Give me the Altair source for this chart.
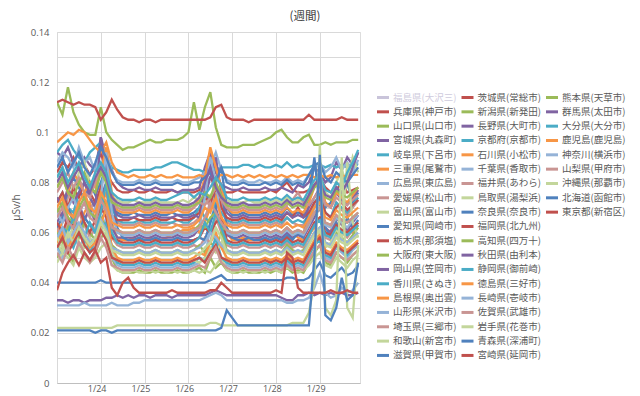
import altair as alt
import pandas as pd

# ---------------- data ----------------
hours = list(range(0, 166, 3))          # 3-hourly samples, hour 0 = 1/23 02:00
grid_hours = list(range(0, 163, 6))
day_labels = ["1/24", "1/25", "1/26", "1/27", "1/28", "1/29"]
day_hours = [22, 46, 70, 94, 118, 142]
y_ticks = [0.0, 0.01, 0.02, 0.03, 0.04, 0.05, 0.06, 0.07, 0.08, 0.09, 0.10, 0.11, 0.12, 0.13, 0.14]

legend_col1 = ["福島県(大沢三)", "兵庫県(神戸市)", "山口県(山口市)", "宮城県(丸森町)", "岐阜県(下呂市)",
               "三重県(尾鷲市)", "広島県(東広島)", "愛媛県(松山市)", "富山県(富山市)", "愛知県(岡崎市)",
               "栃木県(那須塩)", "大阪府(東大阪)", "岡山県(笠岡市)", "香川県(さぬき)", "島根県(奥出雲)",
               "山形県(米沢市)", "埼玉県(三郷市)", "和歌山(新宮市)", "滋賀県(甲賀市)"]
legend_col2 = ["茨城県(常総市)", "新潟県(新発田)", "長野県(大町市)", "京都府(京都市)", "石川県(小松市)",
               "千葉県(香取市)", "福井県(あわら)", "鳥取県(湯梨浜)", "奈良県(奈良市)", "福岡県(北九州)",
               "高知県(四万十)", "秋田県(由利本)", "静岡県(御前崎)", "徳島県(三好市)", "長崎県(壱岐市)",
               "佐賀県(武雄市)", "岩手県(花巻市)", "青森県(深浦町)", "宮崎県(延岡市)"]
legend_col3 = ["熊本県(天草市)", "群馬県(太田市)", "大分県(大分市)", "鹿児島(鹿児島)", "神奈川(横浜市)",
               "山梨県(甲府市)", "沖縄県(那覇市)", "北海道(函館市)", "東京都(新宿区)"]

# values in 0.001 μSv/h, one every 3 hours
hyogo = [84,88,86,90,85,87,83,86, 92,84,80,77,76,76,77,76, 76,77,76,76,76,77,76,76, 76,76,77,79,82,78,76,76,
         76,77,76,76,76,76,76,77, 76,78,80,77,76,76,77,79, 82,78,76,77,80,76,77,78]
yamaguchi = [112,107,118,108,103,100,99,99, 110,100,97,95,93,94,94,95, 96,97,96,96,97,97,97,98, 100,112,101,110,116,102,95,94,
             94,94,95,95,95,96,97,98, 100,101,98,96,96,98,99,95, 95,96,95,96,96,96,97,97]
miyagi = [92,90,94,88,86,90,87,85, 98,90,85,80,78,77,77,78, 77,77,78,77,77,77,76,77, 77,77,78,86,92,84,79,78,
          77,77,78,77,77,77,78,77, 77,78,77,76,79,78,80,86, 84,80,82,88,85,90,87,92]
gifu = [92,95,97,93,90,88,92,94, 96,90,86,85,84,84,85,85, 85,85,86,86,87,88,88,87, 86,85,85,84,86,85,86,86,
        86,86,87,87,86,87,86,86, 87,86,88,86,87,86,86,87, 87,86,87,86,87,86,88,87]
mie = [60,64,70,66,62,68,72,65, 70,76,64,58,57,57,58,57, 57,58,57,57,58,59,60,61, 61,62,60,64,70,75,66,60,
       57,57,58,57,57,58,57,57, 58,57,58,60,58,57,59,62, 60,58,61,64,59,62,60,63]
hiroshima = [88,92,90,86,94,88,90,84, 95,93,84,81,80,80,80,81, 80,80,81,80,80,80,81,80, 80,81,82,84,86,92,85,81,
             80,80,81,80,80,81,80,80, 81,80,82,80,81,80,83,85, 88,84,86,90,85,88,84,89]
ehime = [70,66,74,78,70,65,69,73, 76,70,66,64,63,63,63,64, 63,63,64,63,63,64,63,63, 63,64,66,74,70,78,72,64,
         63,63,64,63,63,63,64,63, 64,63,66,64,63,63,65,70, 74,68,66,72,69,67,70,73]
toyama = [82,86,80,76,84,88,80,78, 85,80,74,73,72,72,73,72, 72,72,73,72,72,72,72,73, 72,74,73,72,75,73,74,73,
          72,72,72,73,72,72,73,72, 73,72,74,72,73,72,75,78, 82,76,74,80,85,79,90,84]
aichi = [74,70,76,82,78,73,80,75, 80,86,72,68,67,67,68,67, 67,67,68,67,67,68,67,67, 67,68,70,76,72,80,86,70,
         67,67,68,67,67,67,68,67, 68,67,70,67,68,67,74,88, 76,70,72,78,74,80,72,76]
tochigi = [112,113,112,111,112,111,111,110, 105,108,113,109,106,105,105,104, 105,105,104,105,105,105,105,105,
           105,105,105,105,106,110,111,106, 105,105,105,104,105,105,105,105, 105,105,105,105,105,105,107,105,
           105,105,105,105,106,105,105,105]
osaka = [50,54,52,48,56,52,49,52, 58,60,50,45,44,44,44,45, 44,44,45,44,44,44,45,44, 44,45,46,44,50,46,48,45,
         44,44,45,44,44,44,45,44, 45,44,46,44,45,44,48,52, 55,48,47,52,50,48,51,53]
okayama = [64,68,62,66,72,65,70,64, 74,80,62,58,58,58,58,59, 58,58,59,58,58,58,59,58, 58,59,62,78,90,70,62,59,
           58,58,59,58,58,58,59,58, 59,58,60,58,59,58,62,66, 70,62,60,66,63,61,64,67]
kagawa = [72,76,70,68,76,80,74,70, 78,88,70,65,64,64,64,65, 64,64,65,64,64,64,65,64, 64,66,70,66,64,72,68,65,
          64,64,65,64,64,64,65,64, 65,64,66,64,65,64,67,72, 75,68,66,72,70,68,71,74]
shimane = [96,98,100,99,101,100,97,94, 92,96,88,84,83,82,83,82, 82,83,82,83,82,82,83,82, 82,82,83,82,84,82,83,83,
           82,83,82,83,82,83,82,83, 82,83,82,83,82,83,83,82, 83,82,83,82,83,82,83,83]
yamagata = [54,50,56,60,54,58,52,55, 60,66,50,47,46,46,46,47, 46,46,47,46,46,46,47,46, 46,47,48,50,62,56,48,47,
            46,46,47,46,46,46,47,46, 47,46,48,46,47,46,50,56, 58,50,49,54,52,50,53,55]
saitama = [62,58,64,60,68,63,58,62, 68,72,58,55,54,54,54,55, 54,54,55,54,54,54,55,54, 54,55,54,58,56,66,60,55,
           54,54,55,54,54,54,55,54, 55,54,56,54,55,54,58,64, 66,58,57,62,60,58,61,64]
wakayama = [48,52,50,47,54,50,48,50, 54,56,47,45,44,44,45,44, 44,45,44,45,44,45,44,45, 44,45,44,45,44,47,50,45,
            44,45,44,45,44,45,44,45, 45,44,46,45,44,45,47,50, 52,47,46,50,48,46,49,51]
shiga = [62,66,70,64,60,66,63,60, 64,70,76,62,58,57,57,58, 57,57,58,57,57,57,58,57, 57,57,58,57,64,70,78,62,
         58,57,57,58,57,57,58,57, 58,57,59,57,60,58,72,90, 70,62,58,64,60,66,62,65]
ibaraki = [72,76,70,78,74,80,76,72, 78,70,67,65,65,65,66,65, 65,65,66,65,65,66,65,65, 65,66,68,74,72,78,70,66,
           65,65,66,65,65,65,66,65, 66,65,68,66,70,66,68,72, 74,68,66,70,72,69,71,73]
niigata = [60,56,62,66,58,64,60,57, 66,62,55,53,52,52,52,53, 52,52,53,52,52,52,53,52, 52,53,55,52,56,54,60,53,
           52,52,53,52,52,52,53,52, 53,52,55,53,52,53,56,60, 62,56,55,60,58,56,59,62]
nagano = [74,70,78,72,76,80,74,70, 98,84,72,67,66,66,66,67, 66,66,67,66,66,66,67,66, 66,67,66,74,82,90,76,68,
          66,66,67,66,66,66,67,66, 67,66,68,66,67,66,70,74, 78,72,70,76,73,71,74,77]
kyoto = [55,52,58,54,60,56,52,57, 62,64,52,48,47,47,47,48, 47,47,48,47,47,47,48,47, 47,48,50,49,52,58,50,48,
         47,47,48,47,47,47,48,47, 48,47,49,47,48,47,51,55, 57,51,50,55,53,51,54,56]
ishikawa = [78,82,76,84,80,76,80,78, 84,94,76,69,68,68,68,69, 68,68,69,68,68,68,69,68, 68,70,74,82,94,86,78,70,
            68,68,69,68,68,68,69,68, 69,68,70,68,69,68,72,78, 80,72,70,76,74,72,75,78]
chiba = [68,64,70,74,68,72,66,70, 74,92,68,60,59,59,59,60, 59,59,60,59,59,59,60,59, 59,60,62,74,90,80,64,60,
         59,59,60,59,59,59,60,59, 60,59,61,59,60,59,63,68, 70,63,62,66,64,62,65,67]
fukui = [76,80,84,78,82,76,74,80, 86,82,74,70,69,69,69,70, 69,69,70,69,69,69,70,69, 69,70,72,71,74,78,73,70,
         69,69,70,69,69,69,70,69, 70,69,71,73,76,72,71,74, 77,71,70,74,72,71,73,75]
tottori = [56,52,58,62,56,54,58,55, 62,58,52,49,48,48,48,49, 48,48,49,48,48,48,49,48, 48,49,48,50,54,52,56,49,
           48,48,49,48,48,48,49,48, 49,48,50,48,49,48,52,56, 60,54,56,62,58,88,64,58]
nara = [86,90,84,88,92,86,83,88, 94,90,84,80,79,79,79,80, 79,79,80,79,79,79,80,79, 79,80,80,82,84,80,86,80,
        79,79,80,79,79,79,80,79, 80,79,81,79,80,79,83,87, 88,82,80,84,82,80,83,86]
fukuoka = [64,60,66,62,70,64,60,65, 70,66,58,57,56,56,56,57, 56,56,57,56,56,56,57,56, 56,57,58,62,60,64,66,57,
           56,56,57,56,56,56,57,56, 57,56,58,56,57,56,60,64, 66,60,59,63,61,60,62,64]
kochi = [68,72,66,64,70,74,68,66, 74,70,62,61,60,60,60,61, 60,60,61,60,60,60,61,60, 60,61,63,62,66,68,62,61,
         60,60,61,60,60,60,61,60, 61,60,62,60,61,60,64,68, 70,64,63,67,65,64,66,68]
akita = [33,33,32,33,33,32,33,33, 33,34,34,35,34,35,34,35, 35,34,35,35,35,34,35,35, 35,35,35,35,36,37,36,35,
         35,35,35,35,35,35,35,35, 35,34,33,33,35,35,36,35, 36,35,36,35,36,35,35,36]
shizuoka = [58,62,60,66,62,58,64,60, 68,80,60,56,55,55,55,56, 55,55,56,55,55,55,56,55, 55,56,58,64,60,68,62,56,
            55,55,56,55,55,55,56,55, 56,55,57,55,56,55,59,63, 65,59,58,62,60,59,61,63]
tokushima = [56,60,54,58,62,58,54,56, 63,70,54,50,49,49,49,50, 49,49,50,49,49,49,50,49, 49,50,52,51,56,60,54,50,
             49,49,50,49,49,49,50,49, 50,49,51,49,50,49,53,57, 59,53,52,56,54,53,55,57]
nagasaki = [58,62,56,60,64,60,56,58, 65,61,54,53,52,52,52,53, 52,52,53,52,52,52,53,52, 52,53,54,56,60,58,55,53,
            52,52,53,52,52,52,53,52, 53,52,54,52,53,52,56,60, 62,56,55,59,57,56,58,60]
saga = [66,70,64,62,68,72,66,64, 73,69,62,61,60,60,60,61, 60,60,61,60,60,60,61,60, 60,61,62,66,72,68,64,61,
        60,60,61,60,60,60,61,60, 61,60,62,60,61,60,64,68, 70,64,63,67,65,64,66,68]
iwate = [58,54,60,56,62,58,55,58, 64,60,53,52,51,51,51,52, 51,51,52,51,51,51,52,51, 51,52,51,54,56,62,58,52,
         51,51,52,51,51,51,52,51, 52,51,53,51,52,51,55,59, 61,55,54,58,56,55,57,59]
aomori = [40,40,40,40,40,40,40,40, 41,40,40,40,40,40,40,40, 40,40,40,40,40,40,40,40, 40,40,40,40,41,42,43,41,
          41,41,41,41,41,41,41,41, 41,41,42,42,41,41,42,45, 48,43,42,44,46,43,44,47]
miyazaki = [54,58,52,56,60,55,52,54, 61,57,50,49,48,48,48,49, 48,48,49,48,48,48,49,48, 48,49,50,48,52,55,50,49,
            48,48,49,48,48,48,49,48, 49,48,50,48,49,48,52,56, 58,52,51,55,53,52,54,56]
kumamoto = [78,82,76,74,80,84,78,76, 84,80,72,71,70,70,70,71, 70,70,71,70,70,70,71,70, 70,71,72,76,74,80,75,71,
            70,70,71,70,70,70,71,70, 71,70,72,70,71,70,74,78, 80,74,73,77,75,74,76,78]
gunma = [80,84,78,82,86,80,76,82, 86,82,74,72,71,71,71,72, 71,71,72,71,71,71,72,71, 71,72,74,80,86,78,74,72,
         71,71,72,71,71,71,72,71, 72,71,73,71,72,71,75,79, 81,75,74,78,76,80,86,92]
oita = [82,86,80,84,88,82,78,84, 88,84,76,74,73,73,73,74, 73,73,74,73,73,74,75,76, 76,74,76,75,78,82,79,74,
        73,73,74,73,73,73,74,73, 74,73,75,73,74,73,77,81, 83,77,76,80,78,84,88,93]
kagoshima = [70,74,68,66,72,76,70,68, 76,72,64,63,62,62,62,63, 62,62,63,62,62,62,63,62, 62,63,65,70,68,74,66,63,
             62,62,63,62,62,62,63,62, 63,62,64,62,63,62,66,70, 72,66,65,69,67,66,68,70]
kanagawa = [31,31,31,31,31,32,31,31, 31,31,32,31,31,31,32,32, 33,33,33,33,33,33,33,33, 33,33,33,34,35,36,35,33,
            33,33,33,33,33,33,33,33, 33,33,32,32,33,33,34,38, 44,36,34,35,38,36,37,40]
yamanashi = [52,48,54,50,56,52,48,52, 58,54,47,46,45,45,45,46, 45,45,46,45,45,45,46,45, 45,46,47,46,50,54,48,46,
             45,45,46,45,45,45,46,45, 46,45,47,45,46,45,49,53, 55,49,48,52,50,49,51,53]
okinawa = [22,22,22,22,22,22,22,22, 22,22,22,23,23,23,23,23, 23,23,23,23,23,23,23,23, 23,23,23,23,24,24,23,23,
           23,23,23,23,23,23,23,23, 23,23,23,24,24,24,28,40, 95,30,27,33,90,30,26,55]
hokkaido = [21,21,21,21,21,21,21,20, 21,21,20,21,21,21,21,21, 21,21,21,21,21,21,21,21, 21,21,21,21,21,21,22,29,
            26,23,23,23,23,23,23,23, 23,23,23,23,23,23,23,50, 91,27,25,30,42,33,35,48]
tokyo = [37,44,48,51,47,52,49,53, 48,50,38,35,40,42,38,36, 36,36,36,36,36,37,36,36, 36,36,36,36,37,37,40,38,
         36,36,36,36,36,36,36,36, 37,36,52,50,38,36,36,36, 36,36,37,36,36,37,36,36]

series = [
    ("兵庫県(神戸市)", hyogo), ("山口県(山口市)", yamaguchi), ("宮城県(丸森町)", miyagi), ("岐阜県(下呂市)", gifu),
    ("三重県(尾鷲市)", mie), ("広島県(東広島)", hiroshima), ("愛媛県(松山市)", ehime), ("富山県(富山市)", toyama),
    ("愛知県(岡崎市)", aichi), ("栃木県(那須塩)", tochigi), ("大阪府(東大阪)", osaka), ("岡山県(笠岡市)", okayama),
    ("香川県(さぬき)", kagawa), ("島根県(奥出雲)", shimane), ("山形県(米沢市)", yamagata), ("埼玉県(三郷市)", saitama),
    ("和歌山(新宮市)", wakayama), ("滋賀県(甲賀市)", shiga), ("茨城県(常総市)", ibaraki), ("新潟県(新発田)", niigata),
    ("長野県(大町市)", nagano), ("京都府(京都市)", kyoto), ("石川県(小松市)", ishikawa), ("千葉県(香取市)", chiba),
    ("福井県(あわら)", fukui), ("鳥取県(湯梨浜)", tottori), ("奈良県(奈良市)", nara), ("福岡県(北九州)", fukuoka),
    ("高知県(四万十)", kochi), ("秋田県(由利本)", akita), ("静岡県(御前崎)", shizuoka), ("徳島県(三好市)", tokushima),
    ("長崎県(壱岐市)", nagasaki), ("佐賀県(武雄市)", saga), ("岩手県(花巻市)", iwate), ("青森県(深浦町)", aomori),
    ("宮崎県(延岡市)", miyazaki), ("熊本県(天草市)", kumamoto), ("群馬県(太田市)", gunma), ("大分県(大分市)", oita),
    ("鹿児島(鹿児島)", kagoshima), ("神奈川(横浜市)", kanagawa), ("山梨県(甲府市)", yamanashi),
    ("沖縄県(那覇市)", okinawa), ("北海道(函館市)", hokkaido), ("東京都(新宿区)", tokyo),
]

# ---------------- styling ----------------
all_names = legend_col1 + legend_col2 + legend_col3
palette9 = ["#4F81BD", "#C0504D", "#9BBB59", "#8064A2", "#4BACC6", "#F79646", "#95B3D7", "#C99593", "#C3D69B"]
all_colors = [palette9[i % 9] for i in range(len(all_names))]
all_colors[0] = "#C9C4DA"   # hidden series, faded in legend
color_scale = alt.Scale(domain=all_names, range=all_colors)

rows = []
for name, vals in series:
    for h, v in zip(hours, vals):
        rows.append({"name": name, "hour": h, "value": v / 1000.0})
df = pd.DataFrame(rows)

leg_rows = []
for c, col in enumerate([legend_col1, legend_col2, legend_col3]):
    for r, n in enumerate(col):
        x0 = 320 + 84.5 * c
        leg_rows.append({"name": n, "sx": x0, "sx2": x0 + 12, "tx": x0 + 16, "ly": 65.5 + 14.33 * r})
leg_df = pd.DataFrame(leg_rows)

W, H = 303, 351
xscale = alt.Scale(domain=[0, 166], nice=False, zero=False)

lines = alt.Chart(df).mark_line(strokeWidth=2.3, clip=True).encode(
    x=alt.X("hour:Q", scale=xscale,
            axis=alt.Axis(values=grid_hours, labels=False, ticks=False, title=None, grid=True,
                          gridColor="#D9D9D9", gridWidth=1, domain=True, domainColor="#BFBFBF")),
    y=alt.Y("value:Q", scale=alt.Scale(domain=[0, 0.14], nice=False),
            axis=alt.Axis(values=y_ticks,
                          labelExpr="round(datum.value*100) % 2 == 0 ? toString(round(datum.value*100)/100) : ''",
                          grid=True, gridColor="#D9D9D9", gridWidth=1, domain=False, ticks=False,
                          labelPadding=8, labelFont="Open Sans", labelFontSize=9.5, labelColor="#595959",
                          title="μSv/h", titleFont="Open Sans", titleFontSize=10, titleFontWeight="normal",
                          titleColor="#595959", titleX=-41, titleY=175, titleAngle=-90,
                          titleAlign="center", titleBaseline="middle")),
    color=alt.Color("name:N", scale=color_scale, legend=None),
    order=alt.Order("hour:Q"),
)

day_df = pd.DataFrame({"hour": day_hours, "label": day_labels})
day_text = alt.Chart(day_df).mark_text(font="Open Sans", fontSize=9, color="#595959", baseline="middle").encode(
    x=alt.X("hour:Q", scale=xscale), y=alt.value(H + 6), text="label:N")

title_text = alt.Chart(pd.DataFrame({"t": ["(週間)"]})).mark_text(
    font="Noto Sans CJK JP", fontSize=11.5, color="#404040", baseline="middle").encode(
    x=alt.value(248), y=alt.value(-15), text="t:N")

swatches = alt.Chart(leg_df).mark_rule(strokeWidth=3).encode(
    x=alt.X("sx:Q", scale=None, axis=None), x2="sx2:Q",
    y=alt.Y("ly:Q", scale=None, axis=None),
    color=alt.Color("name:N", scale=color_scale, legend=None))

leg_text = alt.Chart(leg_df).mark_text(align="left", baseline="middle", font="Noto Sans CJK JP", fontSize=9.5).encode(
    x=alt.X("tx:Q", scale=None, axis=None), y=alt.Y("ly:Q", scale=None, axis=None), text="name:N",
    color=alt.condition("datum.name == '福島県(大沢三)'", alt.value("#CFCBDD"), alt.value("#595959")))

chart = alt.layer(lines, day_text, title_text, swatches, leg_text).properties(
    width=W, height=H,
    padding={"left": 49, "top": 24, "right": 272, "bottom": 13},
    autosize=alt.AutoSizeParams(type="none"),
).configure_view(stroke=None).configure(background="white")

chart.save("out.html", embed_options={"renderer": "svg", "actions": False})
